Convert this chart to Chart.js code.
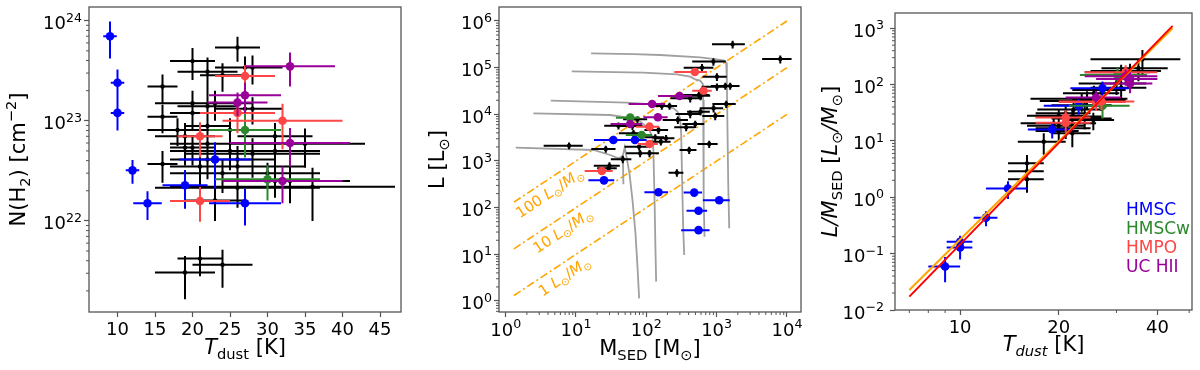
<!DOCTYPE html>
<html>
<head>
<meta charset="utf-8">
<script src="https://cdn.jsdelivr.net/npm/chart.js@4.4.1/dist/chart.umd.min.js"></script>
<style>
  html, body { margin: 0; padding: 0; background: #fff; overflow: hidden; }
  .panel { position: absolute; top: 0; }
</style>
</head>
<body>
<div class="panel" style="left:0px"><canvas id="nh2Chart" width="410" height="370"></canvas></div>
<div class="panel" style="left:410px"><canvas id="lumChart" width="400" height="370"></canvas></div>
<div class="panel" style="left:810px"><canvas id="ratioChart" width="390" height="370"></canvas></div>
<script>
/* === Data ===
 * rows are [x, ±x, y, ±y]
 * left:   Tdust [K], N(H2) [cm^-2]
 * middle: M_SED [Msun], L [Lsun]
 * right:  Tdust [K], L/M_SED [Lsun/Msun]
 */
const nh2Other = [
  [26, 3, 5.4e23, 1.5e23], [20, 3, 3.95e23, 1.4e23], [22, 4, 3.1e23, 1.2e23],
  [24, 3, 2.85e23, 0.9e23], [27, 4, 3.4e23, 1.0e23], [28, 4, 3.4e23, 1.1e23],
  [16, 2, 2.2e23, 0.7e23], [20, 5, 1.5e23, 0.5e23], [23, 5, 1.5e23, 0.5e23],
  [22, 4, 1.4e23, 0.5e23], [27, 4, 1.32e23, 0.45e23], [28, 4, 1.32e23, 0.4e23],
  [20, 3, 1.2e23, 0.4e23], [16, 2, 1.1e23, 0.35e23], [18, 4, 8.1e22, 2.5e22],
  [19, 4, 7.0e22, 2.5e22], [22, 3, 8.9e22, 3.0e22], [25, 5, 8.1e22, 2.5e22],
  [31, 5, 7.0e22, 2.5e22], [22, 5, 5.9e22, 2.0e22], [20, 3, 5.4e22, 1.8e22],
  [19, 2, 5.4e22, 1.8e22], [35, 8, 5.9e22, 2.5e22], [25, 8, 5.0e22, 1.8e22],
  [28, 9, 4.7e22, 2.0e22], [31, 6, 5.0e22, 2.2e22], [22, 5, 4.1e22, 1.5e22],
  [26, 5, 4.1e22, 1.5e22], [16, 2, 3.7e22, 1.3e22], [21, 4, 3.5e22, 1.5e22],
  [26, 9, 3.5e22, 1.3e22], [24, 7, 3.0e22, 1.1e22], [30, 7, 3.0e22, 0.8e22],
  [31, 6, 2.5e22, 0.8e22], [33, 8, 2.5e22, 1.0e22], [21, 4, 2.2e22, 0.8e22],
  [26, 11, 2.15e22, 0.8e22], [36, 11, 2.2e22, 1.2e22], [23, 4, 1.6e22, 0.6e22],
  [19, 4, 3.05e21, 1.4e21], [21, 3, 4.2e21, 1.4e21], [24, 4, 3.65e21, 1.5e21]
];
const nh2Hmsc = [
  [9, 0.9, 7.0e23, 2.8e23], [10, 0.9, 2.4e23, 0.85e23], [10, 0.9, 1.2e23, 0.4e23],
  [12, 0.9, 3.2e22, 0.85e22], [14, 1.9, 1.5e22, 0.48e22], [19, 3, 2.27e22, 0.95e22],
  [23, 4.8, 4.1e22, 2.0e22], [27, 4.8, 1.5e22, 0.6e22]
];
const nh2Hmscw = [[27, 4.8, 8.1e22, 3.8e22], [30, 7, 2.6e22, 1.0e22]];
const nh2Hmpo = [
  [27, 4, 2.8e23, 0.8e23], [26, 5, 1.2e23, 0.45e23], [32, 8, 1.0e23, 0.48e23],
  [21, 3, 7.0e22, 2.7e22], [21, 4, 1.58e22, 0.6e22]
];
const nh2Uchii = [
  [33, 6, 3.5e23, 1.3e23], [27, 4.8, 1.8e23, 0.6e23], [26, 4, 1.52e23, 0.4e23],
  [33, 8, 6.0e22, 2.5e22], [32, 8, 2.5e22, 1.0e22]
];

const lumOther = [
  [1690, 830, 3.16e5, 6e4], [8040, 3600, 1.53e5, 3e4], [900, 450, 1.35e5, 2.5e4],
  [620, 280, 1.0e5, 2e4], [1010, 380, 6.4e4, 1.2e4], [1010, 400, 3.9e4, 7e3],
  [1330, 500, 4.05e4, 7e3], [1560, 560, 4.05e4, 7e3], [560, 230, 2.6e4, 5e3],
  [590, 220, 2.5e4, 5e3], [421, 200, 2.2e4, 4e3], [1370, 500, 1.66e4, 3e3],
  [905, 330, 1.35e4, 2.5e3], [590, 210, 1.14e4, 2e3], [421, 160, 1.02e4, 2e3],
  [955, 330, 9200, 1700], [281, 110, 7570, 1400], [496, 170, 6200, 1100],
  [369, 120, 5260, 900], [214, 60, 1.51e4, 2.5e3], [166, 55, 1.51e4, 2.5e3],
  [149, 55, 4610, 800], [191, 60, 3060, 550], [161, 60, 2600, 450],
  [134, 45, 3210, 550], [65.7, 25, 3920, 700], [63.5, 25, 5620, 1000],
  [74.8, 28, 7820, 1300], [40.2, 15, 5720, 1000], [26.5, 10, 1810, 300],
  [79, 30, 2030, 350], [81.7, 30, 1460, 250], [111, 40, 1460, 250],
  [46.3, 15, 1090, 200], [29.9, 12, 795, 150], [29, 9, 700, 120],
  [7.97, 4.5, 2130, 350], [272, 65, 562, 100], [407, 110, 1720, 300],
  [784, 250, 2310, 400]
];
const lumHmsc = [
  [25, 10, 385, 60], [34, 16, 2820, 450], [69, 32, 2820, 450], [149, 55, 214, 35],
  [480, 140, 210, 35], [553, 180, 86, 14], [1088, 450, 144, 23], [553, 240, 33, 5]
];
const lumHmscw = [[59, 22, 8490, 1400], [86, 35, 3610, 600]];
const lumHmpo = [
  [23.3, 10, 611, 100], [111, 35, 2310, 370], [111, 40, 5440, 870],
  [490, 240, 80700, 13000], [651, 200, 32100, 5000]
];
const lumUchii = [[297, 150, 24700, 4000], [121, 65, 16600, 2600], [146, 55, 8630, 1400], [59, 28, 6200, 1000]];

// evolutionary tracks: M_SED, L
const track1M = [16.4, 65.7, 157, 584, 1008, 1282, 1369, 1399, 1430, 1462, 1511];
const track1L = [2.03e5, 1.96e5, 1.87e5, 1.665e5, 1.51e5, 1.41e5, 1.28e5, 4.62e4, 3917, 332, 36.1];
const track2M = [8.7, 91.1, 272, 421, 496, 584, 637, 644, 651, 658, 673];
const track2L = [8.34e4, 7.81e4, 7.2e4, 6.41e4, 5.62e4, 5.27e4, 4.47e4, 2.03e4, 1721, 146, 23.9];
const track3M = [4.37, 52.8, 157, 244, 278, 303, 313, 324, 334, 346];
const track3L = [1.96e4, 1.78e4, 1.585e4, 1.345e4, 1.14e4, 8210, 3917, 332, 39.2, 9.68];
const track4M = [2.48, 30.6, 52.8, 81.7, 107, 122, 126, 131, 135, 138];
const track4L = [1.05e4, 9676, 8625, 6965, 5012, 3322, 1721, 146, 12.4, 2.6];
const track5M = [1.39, 17.7, 30.6, 40.2, 46.3, 49.4, 52.8, 57.6, 63.6, 70.1, 74.9, 79.1];
const track5L = [1931, 1721, 1345, 1141, 1280, 1963, 1122, 544, 146, 28.2, 5.44, 1.14];
const track5bM = [46.3, 47.3];
const track5bL = [1238, 316];

// constant L/M lines
const ratioLineM = [1.31, 10000];
const ratio100L = [131, 1e6];
const ratio10L = [13.1, 1e5];
const ratio1L = [1.31, 1e4];

const lmOther = [
  [36, 11, 280, 130], [35, 8, 195, 80], [31, 7, 165, 60], [33, 8, 175, 60],
  [30, 7, 105, 40], [31, 6, 88, 30], [27, 5, 80, 28], [25.6, 5, 70, 25],
  [24.4, 8, 56, 20], [23.5, 6, 51, 18], [27, 5, 52, 18], [24, 5, 43, 15],
  [22.2, 5, 36, 12], [21, 4, 31, 10], [20, 4, 28, 9], [22, 5, 27, 10],
  [24, 5, 25, 9], [25.5, 4, 23.5, 8], [19.3, 4, 20.5, 7], [22, 4, 20.5, 7],
  [20, 4, 18.5, 6], [21, 4, 16.8, 6], [20, 3, 15, 5], [22, 3, 13.7, 6],
  [18, 3, 9.7, 4], [16, 2, 4.0, 1.6], [16, 2, 2.9, 1.2], [16, 2, 2.1, 0.9]
];
const lmHmsc = [
  [9, 1.0, 0.059, 0.028], [10, 0.9, 0.163, 0.045], [10, 0.9, 0.129, 0.05],
  [12, 1.0, 0.435, 0.13], [14, 2.0, 1.43, 0.5], [19.1, 3, 16, 5],
  [23, 5, 42, 13], [27.2, 5.5, 86, 27]
];
const lmHmscw = [[30.2, 7, 148, 50], [27.2, 5.7, 42, 17]];
const lmHmpo = [[21, 4, 26, 9], [21, 4, 21, 7], [26, 6, 49, 15], [27, 7, 50, 15], [32, 8, 165, 55]];
const lmUchii = [[26, 5, 59, 18], [32, 8, 140, 45], [33, 5.6, 105, 35], [33, 7, 125, 40]];

const fitT = [7.0, 44.5];
const fitOrange = [0.0227, 1000];
const fitRed = [0.0173, 1100];

const nh2XTicks = [10, 15, 20, 25, 30, 35, 40, 45];
const nh2YTicks = [1e22, 1e23, 1e24];
const lumXTicks = [1, 10, 100, 1e3, 1e4];
const lumYTicks = [1, 10, 100, 1e3, 1e4, 1e5, 1e6];
const lmXTicks = [10, 20, 40];
const lmYTicks = [0.01, 0.1, 1, 10, 100, 1000];
const legendLabels = ['HMSC', 'HMSCw', 'HMPO', 'UC HII'];

/* === Styling === */
const cBlack = '#000000', cHmsc = '#0000ff', cHmscw = '#2b882b', cHmpo = '#ff4646', cUchii = '#990099';
const legendColors = [cHmsc, cHmscw, cHmpo, cUchii];
const axisGrey = '#555555';
const FONT = '"DejaVu Sans", sans-serif';

function logMinors(e0, e1) {
  const out = [];
  for (let e = e0; e <= e1; e++) for (let m = 2; m <= 9; m++) out.push(m * Math.pow(10, e));
  return out;
}

function points(rows, color, radius, order) {
  return {
    data: rows.map(r => ({ x: r[0], y: r[2] })),
    xErr: rows.map(r => r[1]),
    yErr: rows.map(r => r[3]),
    backgroundColor: color,
    borderColor: color,
    borderWidth: 0,
    pointRadius: radius,
    order: order
  };
}
function curve(xs, ys, color, width, dash, order) {
  return {
    data: xs.map((x, i) => ({ x: x, y: ys[i] })),
    showLine: true,
    borderColor: color,
    borderWidth: width,
    borderDash: dash,
    pointRadius: 0,
    fill: false,
    order: order
  };
}

// showLabels=false: labels are drawn as 10^n by the powLabels plugin
function makeScale(type, min, max, tickValues, showLabels, fit) {
  return {
    type: type, min: min, max: max,
    border: { display: false },
    grid: { display: true, drawOnChartArea: false, drawTicks: true, tickLength: 5, tickWidth: 1.2, color: axisGrey },
    ticks: { display: showLabels, font: { family: FONT, size: 18 }, color: '#000', padding: 3, autoSkip: false, maxRotation: 0, callback: v => String(v) },
    afterBuildTicks: s => { s.ticks = tickValues.map(v => ({ value: v })); },
    afterFit: fit
  };
}

// rich text: segs are [text, style]; style may contain i (italic), sub, sup
function drawRich(ctx, segs, x, y, angle, size, color, align) {
  ctx.save();
  ctx.translate(x, y);
  ctx.rotate(angle);
  ctx.fillStyle = color || '#000';
  ctx.textBaseline = 'alphabetic';
  ctx.textAlign = 'left';
  const parts = segs.map(([t, st]) => {
    const small = st.includes('sub') || st.includes('sup');
    const font = (st.includes('i') ? 'italic ' : '') + (small ? size * 0.7 : size) + 'px ' + FONT;
    ctx.font = font;
    const dy = st.includes('sub') ? size * 0.22 : (st.includes('sup') ? -size * 0.42 : 0);
    return { t: t, font: font, w: ctx.measureText(t).width, dy: dy };
  });
  const total = parts.reduce((s, p) => s + p.w, 0);
  let cx = align === 'left' ? 0 : (align === 'right' ? -total : -total / 2);
  parts.forEach(p => { ctx.font = p.font; ctx.fillText(p.t, cx, p.dy); cx += p.w; });
  ctx.restore();
}

/* === Plugins === */
const errorBars = {
  id: 'errorBars',
  beforeDatasetDraw(chart, args) {
    const ds = chart.data.datasets[args.index];
    if (!ds.xErr) return;
    const { ctx, chartArea: a } = chart;
    const sx = chart.scales.x, sy = chart.scales.y;
    const safe = (s, v) => (s.type === 'logarithmic' && v <= 0) ? s.min / 100 : v;
    ctx.save();
    ctx.beginPath();
    ctx.rect(a.left, a.top, a.right - a.left, a.bottom - a.top);
    ctx.clip();
    ctx.strokeStyle = ds.borderColor;
    ctx.lineWidth = 2;
    ctx.beginPath();
    ds.data.forEach((p, i) => {
      const px = sx.getPixelForValue(p.x), py = sy.getPixelForValue(p.y);
      ctx.moveTo(sx.getPixelForValue(safe(sx, p.x - ds.xErr[i])), py);
      ctx.lineTo(sx.getPixelForValue(p.x + ds.xErr[i]), py);
      ctx.moveTo(px, sy.getPixelForValue(safe(sy, p.y - ds.yErr[i])));
      ctx.lineTo(px, sy.getPixelForValue(p.y + ds.yErr[i]));
    });
    ctx.stroke();
    ctx.restore();
  }
};

const frame = {
  id: 'frame',
  afterDatasetsDraw(chart) {
    const { ctx, chartArea: a } = chart;
    ctx.save();
    ctx.strokeStyle = axisGrey;
    ctx.lineWidth = 1.3;
    ctx.strokeRect(a.left, a.top, a.right - a.left, a.bottom - a.top);
    ctx.restore();
  }
};

function minorTicks(xs, ys) {
  return {
    id: 'minorTicks',
    afterDraw(chart) {
      const { ctx, chartArea: a } = chart;
      const sx = chart.scales.x, sy = chart.scales.y;
      ctx.save();
      ctx.strokeStyle = axisGrey;
      ctx.lineWidth = 1;
      ctx.beginPath();
      xs.forEach(v => {
        if (v < sx.min || v > sx.max) return;
        const p = sx.getPixelForValue(v);
        ctx.moveTo(p, a.bottom); ctx.lineTo(p, a.bottom + 3);
      });
      ys.forEach(v => {
        if (v < sy.min || v > sy.max) return;
        const p = sy.getPixelForValue(v);
        ctx.moveTo(a.left, p); ctx.lineTo(a.left - 3, p);
      });
      ctx.stroke();
      ctx.restore();
    }
  };
}

// tick labels like matplotlib's 10^n
function powLabels(axes, gap) {
  return {
    id: 'powLabels',
    afterDraw(chart) {
      const { ctx, chartArea: a } = chart;
      axes.forEach(id => {
        const s = chart.scales[id];
        s.ticks.forEach(t => {
          const p = s.getPixelForValue(t.value);
          const e = String(Math.round(Math.log10(t.value))).replace('-', '−');
          const segs = [['10', ''], [e, 'sup']];
          if (id === 'x') drawRich(ctx, segs, p, a.bottom + gap + 16.5, 0, 18, '#000', 'center');
          else drawRich(ctx, segs, a.left - gap, p + 8.5, 0, 18, '#000', 'right');
        });
      });
    }
  };
}

function texts(fn) {
  return { id: 'texts', afterDraw(chart) { fn(chart.ctx, chart); } };
}

function baseOptions(padding, xScale, yScale) {
  return {
    responsive: false,
    animation: false,
    events: [],
    layout: { padding: padding },
    plugins: { legend: { display: false }, tooltip: { enabled: false } },
    scales: { x: xScale, y: yScale }
  };
}

/* === Left: N(H2) vs Tdust === */
new Chart(document.getElementById('nh2Chart'), {
  type: 'scatter',
  data: {
    datasets: [
      points(nh2Other, cBlack, 2.2, 5),
      points(nh2Hmsc, cHmsc, 4.3, 4),
      points(nh2Hmscw, cHmscw, 4.3, 3),
      points(nh2Hmpo, cHmpo, 4.3, 2),
      points(nh2Uchii, cUchii, 4.3, 1)
    ]
  },
  options: baseOptions({ left: 0, right: 9, top: 7, bottom: 0 },
    makeScale('linear', 6.2, 47.8, nh2XTicks, true, s => { s.height = 58; }),
    makeScale('logarithmic', Math.pow(10, 21.09), Math.pow(10, 24.137), nh2YTicks, false, s => { s.width = 89; })),
  plugins: [errorBars, frame, minorTicks([], logMinors(21, 23)), powLabels(['y'], 7), texts(ctx => {
    drawRich(ctx, [['N(H', ''], ['2', 'sub'], [') [cm', ''], ['−2', 'sup'], [']', '']], 25, 159.5, -Math.PI / 2, 21);
    drawRich(ctx, [['T', 'i'], ['dust', 'sub'], [' [K]', '']], 245, 354, 0, 21);
  })]
});

/* === Middle: L vs M_SED === */
const ratioLabels = [
  { m: 3.37, text: '100 ' },
  { m: 5.2, text: '10 ' },
  { m: 5.5, text: '1 ' }
];
new Chart(document.getElementById('lumChart'), {
  type: 'scatter',
  data: {
    datasets: [
      curve(ratioLineM, ratio100L, '#ffa500', 1.6, [8, 3, 2, 3], 20),
      curve(ratioLineM, ratio10L, '#ffa500', 1.6, [8, 3, 2, 3], 20),
      curve(ratioLineM, ratio1L, '#ffa500', 1.6, [8, 3, 2, 3], 20),
      curve(track1M, track1L, '#a0a0a0', 1.8, [], 10),
      curve(track2M, track2L, '#a0a0a0', 1.8, [], 10),
      curve(track3M, track3L, '#a0a0a0', 1.8, [], 10),
      curve(track4M, track4L, '#a0a0a0', 1.8, [], 10),
      curve(track5M, track5L, '#a0a0a0', 1.8, [], 10),
      curve(track5bM, track5bL, '#a0a0a0', 1.8, [], 10),
      points(lumOther, cBlack, 2.2, 5),
      points(lumHmsc, cHmsc, 4.3, 4),
      points(lumHmscw, cHmscw, 4.3, 3),
      points(lumHmpo, cHmpo, 4.3, 2),
      points(lumUchii, cUchii, 4.3, 1)
    ]
  },
  options: baseOptions({ left: 0, right: 9, top: 7, bottom: 0 },
    makeScale('logarithmic', Math.pow(10, -0.095), Math.pow(10, 4.2), lumXTicks, false, s => { s.height = 58; }),
    makeScale('logarithmic', Math.pow(10, -0.236), Math.pow(10, 6.3), lumYTicks, false, s => { s.width = 89; })),
  plugins: [errorBars, frame, minorTicks(logMinors(0, 4), logMinors(-1, 6)), powLabels(['x', 'y'], 7), texts((ctx, chart) => {
    drawRich(ctx, [['L [L', ''], ['⊙', 'sub'], [']', '']], 34, 159.5, -Math.PI / 2, 21);
    drawRich(ctx, [['M', ''], ['SED', 'sub'], [' [M', ''], ['⊙', 'sub'], [']', '']], 240, 355, 0, 21);
    const sx = chart.scales.x, sy = chart.scales.y;
    const ang = Math.atan2(sy.getPixelForValue(10) - sy.getPixelForValue(1), sx.getPixelForValue(10) - sx.getPixelForValue(1));
    const lines = [ratio100L[0] / ratioLineM[0], ratio10L[0] / ratioLineM[0], ratio1L[0] / ratioLineM[0]];
    ratioLabels.forEach((lab, i) => {
      const px = sx.getPixelForValue(lab.m), py = sy.getPixelForValue(lab.m * lines[i]);
      const off = 17;
      drawRich(ctx, [[lab.text, ''], ['L', 'i'], ['⊙', 'sub'], ['/', ''], ['M', 'i'], ['⊙', 'sub']],
        px - Math.sin(ang) * off, py + Math.cos(ang) * off, ang, 15, '#ffa500');
    });
  })]
});

/* === Right: L/M vs Tdust === */
new Chart(document.getElementById('ratioChart'), {
  type: 'scatter',
  data: {
    datasets: [
      curve(fitT, fitRed, '#ff0000', 2, [], 0),
      curve(fitT, fitOrange, '#ffa500', 2, [], 0.5),
      points(lmOther, cBlack, 2.2, 5),
      points(lmHmsc, cHmsc, 4.3, 4),
      points(lmHmscw, cHmscw, 4.3, 3),
      points(lmHmpo, cHmpo, 4.3, 2),
      points(lmUchii, cUchii, 4.3, 1)
    ]
  },
  options: baseOptions({ left: 0, right: 8, top: 13, bottom: 0 },
    makeScale('logarithmic', 6.33, 51, lmXTicks, true, s => { s.height = 60; }),
    makeScale('logarithmic', 0.01, Math.pow(10, 3.27), lmYTicks, false, s => { s.width = 85; })),
  plugins: [errorBars, frame, minorTicks([6, 7, 8, 9, 30, 50], logMinors(-2, 2)), powLabels(['y'], 11), texts(ctx => {
    drawRich(ctx, [['L/M', 'i'], ['SED', 'sub'], [' [', ''], ['L', 'i'], ['⊙', 'sub'], ['/', 'i'], ['M', 'i'], ['⊙', 'sub'], [']', '']],
      27, 161.5, -Math.PI / 2, 21);
    drawRich(ctx, [['T', 'i'], ['dust', 'isub'], [' [K]', '']], 233.5, 351, 0, 21);
    legendLabels.forEach((t, i) => {
      drawRich(ctx, [[t, '']], 316, 215 + i * 19, 0, 17, legendColors[i], 'left');
    });
  })]
});
</script>
</body>
</html>
